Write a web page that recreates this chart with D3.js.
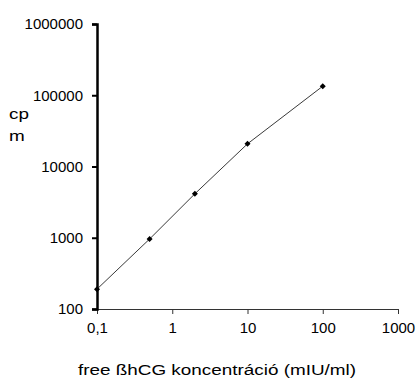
<!DOCTYPE html>
<html>
<head>
<meta charset="utf-8">
<script src="https://cdn.jsdelivr.net/npm/d3@7"></script>
<style>
  body { margin: 0; background: #fff; }
  text { font-family: "Liberation Sans", Arial, sans-serif; fill: #000; }
</style>
</head>
<body>
<div class="chart"></div>
<script>
// free ßhCG concentration (mIU/ml) vs cpm
const concentrations = [0.1, 0.5, 2, 10, 100];
const cpmValues = [190, 960, 4140, 20800, 134000];
const xTicks = [0.1, 1, 10, 100, 1000];
const xTickLabels = ["0,1", "1", "10", "100", "1000"];
const yTicks = [100, 1000, 10000, 100000, 1000000];

const width = 417, height = 379;
const margin = {top: 24, right: 19, bottom: 70, left: 97};
const plotW = width - margin.left - margin.right;
const plotH = height - margin.top - margin.bottom;

const xScale = d3.scaleLog().domain([0.1, 1000]).range([0, plotW]);
const yScale = d3.scaleLog().domain([100, 1000000]).range([plotH, 0]);

const svg = d3.select(".chart").append("svg")
  .attr("width", width)
  .attr("height", height);

const g = svg.append("g")
  .attr("transform", "translate(" + margin.left + "," + margin.top + ")");

// x axis (thin)
const xAxis = g.append("g")
  .attr("transform", "translate(0," + plotH + ")")
  .call(d3.axisBottom(xScale).tickValues(xTicks)
    .tickFormat((d, i) => xTickLabels[i]).tickSizeOuter(0).tickSize(5).tickPadding(8));
xAxis.select(".domain").attr("stroke", "#333").attr("stroke-width", 1);
xAxis.selectAll(".tick line").attr("stroke", "#333");
xAxis.selectAll("text").style("font-size", "15px");

// y axis (thick)
const yAxis = g.append("g")
  .call(d3.axisLeft(yScale).tickValues(yTicks)
    .tickFormat(d3.format("d")).tickSizeOuter(0).tickSize(5).tickPadding(9));
yAxis.select(".domain").attr("stroke", "#000").attr("stroke-width", 2.5);
yAxis.selectAll(".tick line").attr("stroke", "#000").attr("stroke-width", 2);
yAxis.selectAll("text").style("font-size", "15px");

const dataset = concentrations.map((c, i) => ({x: c, y: cpmValues[i]}));

const line = d3.line()
  .x(d => xScale(d.x))
  .y(d => yScale(d.y));

g.append("path")
  .datum(dataset)
  .attr("fill", "none")
  .attr("stroke", "#222")
  .attr("stroke-width", 0.9)
  .attr("d", line);

g.selectAll(".dot")
  .data(dataset)
  .enter().append("path")
  .attr("class", "dot")
  .attr("transform", d => "translate(" + xScale(d.x) + "," + yScale(d.y) + ") rotate(45)")
  .attr("d", d3.symbol().type(d3.symbolSquare).size(18))
  .attr("fill", "#000");

// axis titles (stretched horizontally like the original)
svg.append("text")
  .attr("transform", "translate(9,119) scale(1.26,1)")
  .style("font-size", "15px")
  .text("cp");
svg.append("text")
  .attr("transform", "translate(9,141) scale(1.26,1)")
  .style("font-size", "15px")
  .text("m");

svg.append("text")
  .attr("transform", "translate(217,375) scale(1.26,1)")
  .attr("text-anchor", "middle")
  .style("font-size", "15px")
  .text("free ßhCG koncentráció (mIU/ml)");
</script>
</body>
</html>
